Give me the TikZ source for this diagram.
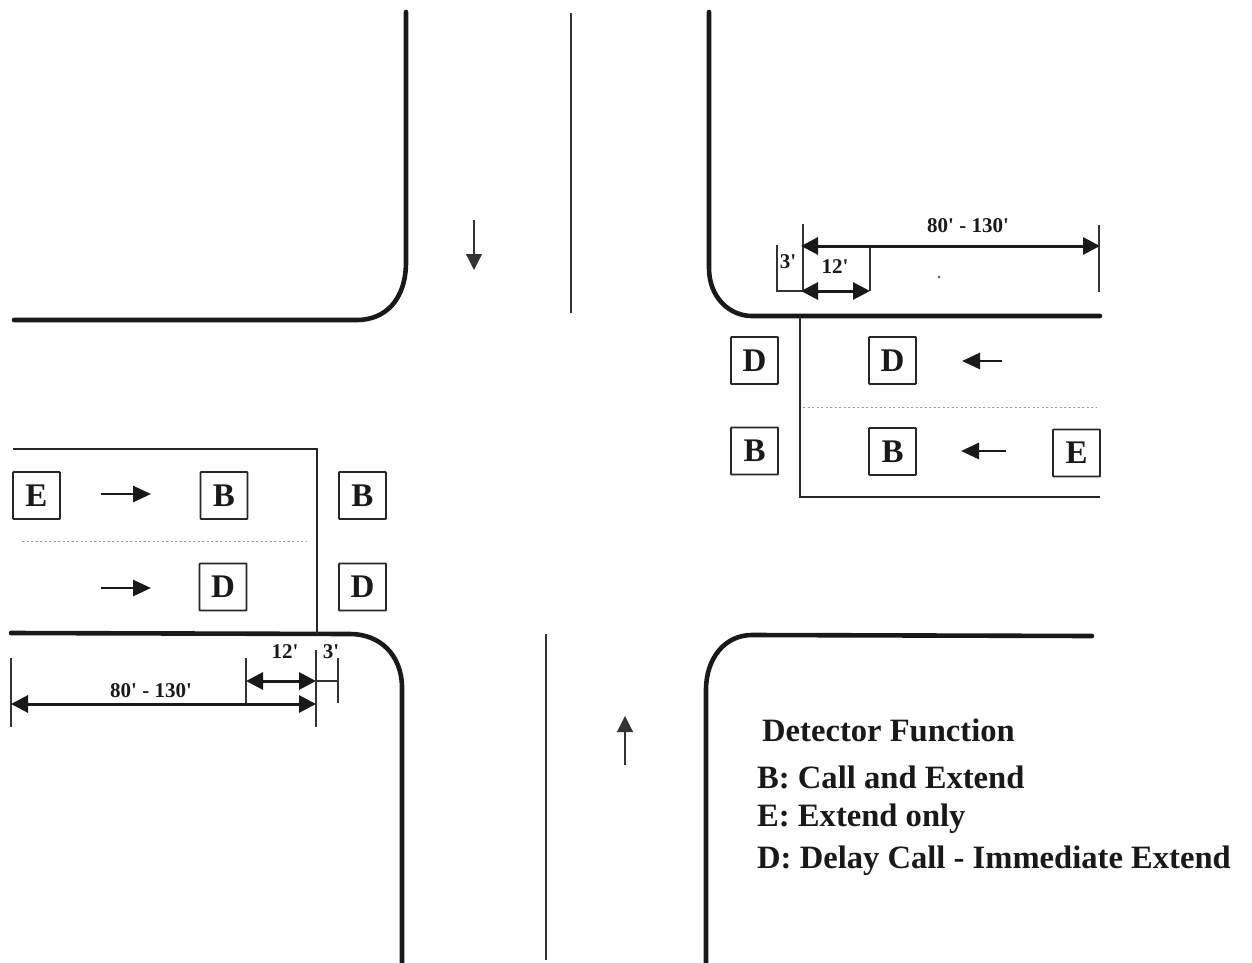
\documentclass[tikz,border=0pt]{standalone}
\usepackage{fontspec}
\setmainfont{Liberation Serif}
\usetikzlibrary{arrows.meta}
\tikzset{
  curb/.style={line width=4.6pt,line cap=round,black!90},
  lane/.style={line width=1.6pt,black!85},
  thin line/.style={line width=1.1pt,black!80},
  dots/.style={line width=0.8pt,black!40,dash pattern=on 2pt off 2.5pt},
  det/.style={draw=black!85,line width=1.8pt,minimum width=47pt,minimum height=47pt,inner sep=0pt,font=\fontsize{33}{33}\selectfont\bfseries,text=black!90,rounded corners=0.6pt},
  flow/.style={line width=2.8pt,black!90,-{Triangle[length=18pt,width=16pt]}},
  road/.style={line width=1.2pt,black!80,-{Triangle[length=16pt,width=16pt]}},
  dimarrow/.style={line width=3pt,black!90,{Triangle[length=17pt,width=17pt]}-{Triangle[length=17pt,width=17pt]}},
  dimtext/.style={inner sep=0pt,font=\fontsize{21}{21}\selectfont\bfseries,text=black!90},
  legend/.style={anchor=base west,inner sep=0pt,text=black!90,font=\fontsize{32.6}{33}\selectfont\bfseries}
}
\newcommand{\ft}{\textquotesingle}
\begin{document}
\begin{tikzpicture}[x=1pt,y=-1pt]
\useasboundingbox (0,0) rectangle (1252,963);
% curbs
\coordinate (tl1) at (406,12); \coordinate (tl2) at (14,320);
\draw[curb] (tl1) -- (406,262) .. controls (406,300) and (385,320) .. (357,320) -- (tl2);
\coordinate (tr1) at (709,12); \coordinate (tr2) at (1100,316);
\draw[curb] (tr1) -- (709,268) .. controls (709,298) and (730,316) .. (752,316) -- (tr2);
\coordinate (bl1) at (11,633); \coordinate (bl2) at (402,963);
\draw[curb] (bl1) -- (350,634) .. controls (380,634) and (402,655) .. (402,688) -- (bl2);
\coordinate (br1) at (706,963); \coordinate (br2) at (1092,636);
\draw[curb] (br1) -- (706,690) .. controls (706,658) and (725,635) .. (752,635) -- (br2);
% centre lines
\coordinate (c1a) at (571,13); \coordinate (c1b) at (571,313);
\coordinate (c2a) at (546,634); \coordinate (c2b) at (546,960);
\draw[thin line] (c1a) -- (c1b);
\draw[thin line] (c2a) -- (c2b);
% road direction arrows
\coordinate (r1a) at (474,220); \coordinate (r1b) at (474,270);
\coordinate (r2a) at (625,765); \coordinate (r2b) at (625,716);
\draw[road] (r1a) -- (r1b);
\draw[road] (r2a) -- (r2b);
% east approach lanes
\coordinate (ea) at (800,316); \coordinate (eb) at (800,497); \coordinate (ec) at (1100,497);
\draw[lane] (ea) -- (eb) -- (ec);
\coordinate (ed1) at (803,407); \coordinate (ed2) at (1097,407);
\draw[dots] (ed1) -- (ed2);
% west approach lanes
\coordinate (wa) at (13,449); \coordinate (wb) at (317,449); \coordinate (wc) at (317,634);
\draw[lane] (wa) -- (wb) -- (wc);
\coordinate (wd1) at (22,541); \coordinate (wd2) at (306,541);
\draw[dots] (wd1) -- (wd2);
% detectors east
\node[det] (eD1) at (754.5,360.5) {D};
\node[det] (eB1) at (754.5,451) {B};
\node[det] (eD2) at (892.5,360.5) {D};
\node[det] (eB2) at (892.5,451.5) {B};
\node[det] (eE) at (1076.5,453) {E};
% detectors west
\node[det] (wE) at (36.5,495.5) {E};
\node[det] (wB1) at (224,495.5) {B};
\node[det] (wB2) at (362.5,495.5) {B};
\node[det] (wD1) at (223,587) {D};
\node[det] (wD2) at (362.5,587) {D};
% flow arrows
\coordinate (f1a) at (1002,361); \coordinate (f1b) at (962,361);
\coordinate (f2a) at (1006,451); \coordinate (f2b) at (961,451);
\coordinate (f3a) at (101,494); \coordinate (f3b) at (151,494);
\coordinate (f4a) at (101,588); \coordinate (f4b) at (151,588);
\draw[flow] (f1a) -- (f1b);
\draw[flow] (f2a) -- (f2b);
\draw[flow] (f3a) -- (f3b);
\draw[flow] (f4a) -- (f4b);
% east dimensions
\coordinate (t1a) at (803,224); \coordinate (t1b) at (803,291);
\coordinate (t2a) at (1099,225); \coordinate (t2b) at (1099,292);
\coordinate (t3a) at (870,246); \coordinate (t3b) at (870,291);
\coordinate (t4a) at (777,245); \coordinate (t4b) at (777,291);
\draw[thin line] (t1a) -- (t1b);
\draw[thin line] (t2a) -- (t2b);
\draw[thin line] (t3a) -- (t3b);
\draw[thin line] (t4a) -- (t4b) -- (t1b);
\draw[dimarrow] (801,246) -- (1100,246);
\draw[dimarrow] (801,291) -- (870,291);
\node[dimtext] (el80) at (968,226) {80\ft{} - 130\ft};
\node[dimtext] (el12) at (835,267) {12\ft};
\node[dimtext] (el3) at (788,262) {3\ft};
% west dimensions
\coordinate (u1a) at (11,658); \coordinate (u1b) at (11,727);
\coordinate (u2a) at (316,650); \coordinate (u2b) at (316,727);
\coordinate (u3a) at (246,658); \coordinate (u3b) at (246,704);
\coordinate (u4a) at (338,658); \coordinate (u4b) at (338,703);
\draw[thin line] (u1a) -- (u1b);
\draw[thin line] (u2a) -- (u2b);
\draw[thin line] (u3a) -- (u3b);
\draw[thin line] (u4a) -- (u4b);
\draw[thin line] (316,681) -- (338,681);
\draw[dimarrow] (246,681) -- (316,681);
\draw[dimarrow] (11,704) -- (316,704);
\node[dimtext] (wl80) at (151,691) {80\ft{} - 130\ft};
\node[dimtext] (wl12) at (285,652) {12\ft};
\node[dimtext] (wl3) at (331,652) {3\ft};
% speck
\fill[black!70] (939,277) circle (1.3pt);
% legend
\node[legend] (lg0) at (762,741) {Detector Function};
\node[legend] (lg1) at (757,788) {B: Call and Extend};
\node[legend] (lg2) at (757,826) {E: Extend only};
\node[legend] (lg3) at (757,868) {D: Delay Call - Immediate Extend};
\end{tikzpicture}
\end{document}
